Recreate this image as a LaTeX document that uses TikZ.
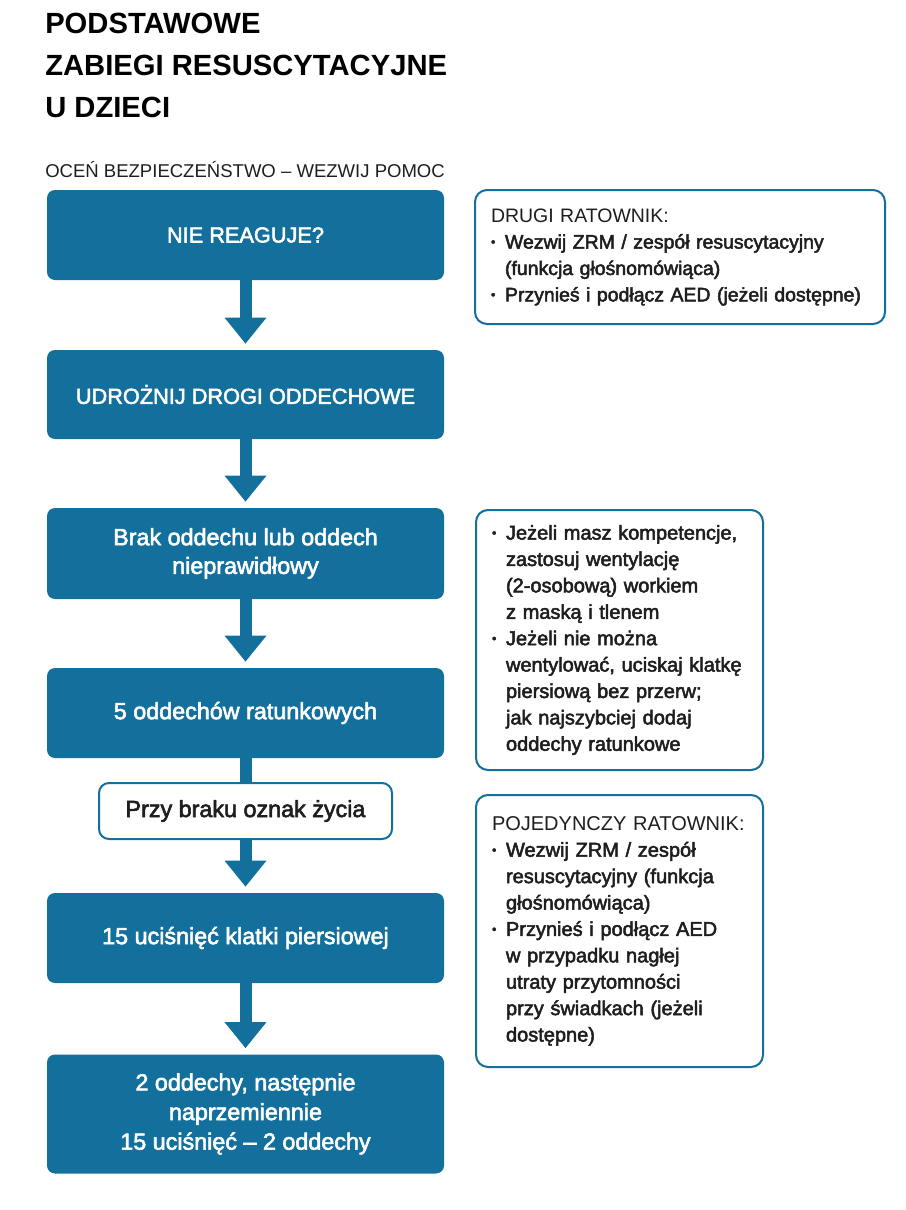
\documentclass[tikz,border=0pt]{standalone}
\usepackage{fontspec}
\setmainfont{Liberation Sans}
\newfontfamily\regfont{Liberation Sans}
\newfontfamily\medfont[FakeBold=2.5]{Liberation Sans}
\usetikzlibrary{arrows.meta}
\definecolor{myblue}{HTML}{13709C}
\definecolor{ink}{HTML}{1E1E1E}
\newcommand\mybul{\makebox[10.5pt][l]{\raisebox{1.8pt}{\fontsize{9.5}{9.5}\selectfont\textbullet}}}
\newcommand\myind{\hspace*{10.5pt}}
\begin{document}
\begin{tikzpicture}[x=0.75pt,y=-0.75pt,
  bluebox/.style={fill=myblue, rounded corners=6pt, minimum width=297.75pt, text=white, align=center, inner sep=0pt, font=\medfont\fontsize{17.5}{21.5}\selectfont},
  capsbox/.style={bluebox, font=\medfont\fontsize{16.3}{21}\selectfont},
  whitebox/.style={draw=myblue, line width=1.5pt, fill=white, rounded corners=7.5pt, minimum width=219.75pt, minimum height=42pt, inner sep=0pt, text=ink, font=\medfont\fontsize{17.5}{21.5}\selectfont},
  infobox/.style={draw=myblue, line width=1.5pt, fill=white, rounded corners=9pt, align=left, inner xsep=12pt, inner ysep=0pt, text=ink, font=\medfont\fontsize{15}{19.8}\selectfont},
  flowarrow/.style={draw=myblue, line width=9pt, -{Triangle[width=30pt,length=19.5pt]}, shorten >=4.5pt},
  shaft/.style={draw=myblue, line width=9pt},
  titletext/.style={anchor=base west, inner sep=0pt, text=black, font=\bfseries\fontsize{21.9}{21.9}\selectfont},
  subtext/.style={anchor=base west, inner sep=0pt, text=ink, font=\regfont\fontsize{13.9}{13.9}\selectfont}
]
\useasboundingbox (0,0) rectangle (906,1210);
\fill[white] (0,0) rectangle (906,1210);

% title
\node[titletext] (t1) at (45,33) {PODSTAWOWE};
\node[titletext] (t2) at (45,75) {ZABIEGI RESUSCYTACYJNE};
\node[titletext] (t3) at (45,117) {U DZIECI};
\node[subtext] (sub) at (45,177) {OCEŃ BEZPIECZEŃSTWO – WEZWIJ POMOC};

% main flow
\node[capsbox, minimum height=67.5pt] (b1) at (245.5,235) {NIE REAGUJE?};
\node[capsbox, minimum height=66.75pt] (b2) at (245.5,394.5) {UDROŻNIJ DROGI ODDECHOWE};
\node[bluebox, minimum height=68.25pt] (b3) at (245.5,553.5) {Brak oddechu lub oddech\\nieprawidłowy};
\node[bluebox, minimum height=67.5pt] (b4) at (245.5,713) {5 oddechów ratunkowych};
\node[whitebox] (w) at (245.5,811) {Przy braku oznak życia};
\node[bluebox, minimum height=67.5pt] (b5) at (245.5,938) {15 uciśnięć klatki piersiowej};
\node[bluebox, minimum height=89.25pt, font=\medfont\fontsize{17.5}{22.2}\selectfont] (b6) at (245.5,1114) {2 oddechy, następnie\\naprzemiennie\\15 uciśnięć – 2 oddechy};

\draw[flowarrow] (b1) -- (b2);
\draw[flowarrow] (b2) -- (b3);
\draw[flowarrow] (b3) -- (b4);
\draw[shaft] (b4) -- (w);
\draw[flowarrow] (w) -- (b5);
\draw[flowarrow] (b5) -- (b6);

% side boxes
\node[infobox, text width=283.5pt, minimum height=100.5pt, font=\medfont\fontsize{14.6}{19.8}\selectfont] (iA) at (680,257) {%
{\regfont DRUGI RATOWNIK:}\\
\mybul Wezwij ZRM / zespół resuscytacyjny\\
\myind (funkcja głośnomówiąca)\\
\mybul Przynieś i podłącz AED (jeżeli dostępne)};

\node[infobox, text width=191.25pt, minimum height=195pt] (iB) at (619.5,640) {%
\mybul Jeżeli masz kompetencje,\\
\myind zastosuj wentylację\\
\myind (2-osobową) workiem\\
\myind z maską i tlenem\\
\mybul Jeżeli nie można\\
\myind wentylować, uciskaj klatkę\\
\myind piersiową bez przerw;\\
\myind jak najszybciej dodaj\\
\myind oddechy ratunkowe};

\node[infobox, text width=191.25pt, minimum height=204pt] (iC) at (619.5,931) {%
{\regfont POJEDYNCZY RATOWNIK:}\\
\mybul Wezwij ZRM / zespół\\
\myind resuscytacyjny (funkcja\\
\myind głośnomówiąca)\\
\mybul Przynieś i podłącz AED\\
\myind w przypadku nagłej\\
\myind utraty przytomności\\
\myind przy świadkach (jeżeli\\
\myind dostępne)};
\end{tikzpicture}
\end{document}
